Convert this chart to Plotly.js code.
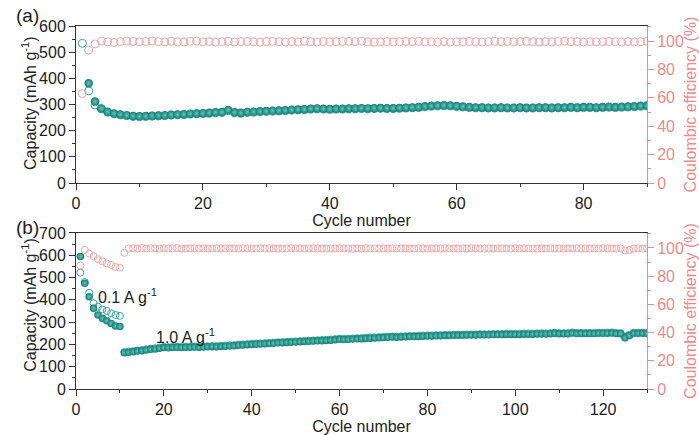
<!DOCTYPE html>
<html>
<head>
<meta charset="utf-8">
<script src="https://cdn.plot.ly/plotly-3.0.1.min.js"></script>
<style>html,body{margin:0;padding:0;background:#fff;}#chart{width:699px;height:435px;}</style>
</head>
<body>
<div id="chart"></div>
<script>
// ---------- Panel (a) ----------
const A_cycle = [1,2,3,4,5,6,7,8,9,10,11,12,13,14,15,16,17,18,19,20,21,22,23,24,25,26,27,28,29,30,
31,32,33,34,35,36,37,38,39,40,41,42,43,44,45,46,47,48,49,50,51,52,53,54,55,56,57,58,59,60,
61,62,63,64,65,66,67,68,69,70,71,72,73,74,75,76,77,78,79,80,81,82,83,84,85,86,87,88,89,90];
const A_discharge = [null,381,311,285,272,266,262,259,256,255,
256,257,258,259,261,262,263,265,266,267,
268,270,271,279,270,268,271,272,274,275,
276,277,278,280,281,282,284,285,284,283,
284,284,285,285,286,285,286,287,286,286,
287,288,289,290,293,295,296,297,296,294,
292,290,289,289,288,288,289,288,288,289,
288,288,289,289,288,289,289,290,289,290,
290,289,290,291,290,291,292,293,295,296];
const A_charge = [534,352,298,283,270,264,260,257,254,253,
254,255,256,257,259,260,261,263,264,265,
266,268,269,276,268,266,269,270,272,273,
274,275,276,278,279,280,282,283,282,281,
282,282,283,283,284,283,284,285,284,284,
285,286,287,288,291,293,294,295,294,292,
290,288,287,287,286,286,287,286,286,287,
286,286,287,287,286,287,287,288,287,288,
288,287,288,289,288,289,290,291,293,294];
const A_ce = [63,93.6,98,100,99.5,99,99.6,100,99.8,99.5,
99.7,100,99.6,99.4,99.8,99.5,99.3,99.9,100,99.4,
99.6,99.2,99.5,99.8,99.3,99.6,99.7,99.4,99.2,99.6,
99.8,99.5,99.3,99.6,99.4,99.9,99.5,99.3,99.6,99.4,
99.5,99.7,99.8,99.6,100,99.4,99.2,99.5,99.6,99.3,
99.5,99.7,99.6,99.8,99.4,99.5,99.3,99.6,99.2,99.5,
99.4,99.7,99.5,99.3,99.6,99.8,99.5,99.7,99.4,99.6,
99.8,99.5,99.3,99.6,99.4,99.7,99.9,99.5,99.6,99.3,
99.5,99.4,99.6,99.7,99.5,99.3,99.6,99.4,99.5,99.8];

// ---------- Panel (b) ----------
const B_cycle = [1,2,3,4,5,6,7,8,9,10,11,12,13,14,15,16,17,18,19,20,21,22,23,24,25,26,27,28,29,30,
31,32,33,34,35,36,37,38,39,40,41,42,43,44,45,46,47,48,49,50,51,52,53,54,55,56,57,58,59,60,
61,62,63,64,65,66,67,68,69,70,71,72,73,74,75,76,77,78,79,80,81,82,83,84,85,86,87,88,89,90,
91,92,93,94,95,96,97,98,99,100,101,102,103,104,105,106,107,108,109,110,111,112,113,114,115,116,117,118,119,120,
121,122,123,124,125,126,127,128,129,130];
const B_discharge = [594,474,414,362,332,317,306,294,283,280,
163,165,167,170,172,175,178,180,183,186,
185,186,187,186,187,187,188,187,188,189,
190,190,191,192,193,194,196,197,199,200,
201,202,203,204,205,207,208,209,210,211,
212,213,214,215,216,217,218,219,221,223,
222,223,224,225,226,227,228,229,230,231,
232,233,232,233,234,235,235,236,237,238,
238,239,239,240,240,241,241,241,242,242,
242,243,243,243,244,244,244,245,245,245,
245,246,246,246,247,247,247,248,250,248,
248,248,251,249,249,249,249,249,250,250,
250,251,249,248,230,240,250,250,250,249];
const B_charge = [522,480,432,385,369,357,350,340,332,328,
166,168,170,173,175,178,181,183,186,189,
188,189,190,189,190,190,191,190,191,192,
193,193,194,195,196,197,199,200,202,203,
204,205,206,207,208,210,211,212,213,214,
215,216,217,218,219,220,221,222,224,226,
225,226,227,228,229,230,231,232,233,234,
235,236,235,236,237,238,238,239,240,241,
241,242,242,243,243,244,244,244,245,245,
245,246,246,246,247,247,247,248,248,248,
248,249,249,249,250,250,250,251,253,251,
251,251,254,252,252,252,252,252,253,253,
253,254,252,251,234,243,253,253,253,252];
const B_ce = [87.5,98.6,96,94,92,90.5,89,88,86.5,86,
96.5,99.6,99.8,99.7,99.9,99.6,99.8,99.7,99.5,99.8,
99.6,99.7,99.9,99.6,99.5,99.7,99.8,99.6,99.7,99.5,
99.6,99.8,99.7,99.6,99.5,99.7,99.6,99.8,99.7,99.6,
99.5,99.7,99.6,99.8,99.7,99.5,99.6,99.7,99.8,99.6,
99.7,99.5,99.6,99.8,99.7,99.6,99.5,99.7,99.6,99.8,
99.7,99.6,99.5,99.7,99.6,99.8,99.7,99.6,99.5,99.7,
99.6,99.8,99.7,99.6,99.7,99.5,99.6,99.8,99.7,99.6,
99.5,99.7,99.6,99.8,99.7,99.6,99.5,99.7,99.6,99.8,
99.7,99.6,99.5,99.7,99.6,99.8,99.7,99.6,99.5,99.7,
99.6,99.8,99.7,99.6,99.5,99.7,99.6,99.8,99.7,99.6,
99.5,99.7,99.6,99.8,99.7,99.6,99.5,99.7,99.6,99.8,
99.7,99.6,99.5,99.7,98.2,98.6,99.6,99.7,99.5,99.6];

const labelA = '(a)', labelB = '(b)';
const rateLow = '0.1 A g<sup>-1</sup>', rateHigh = '1.0 A g<sup>-1</sup>';
const capTitle = 'Capacity (mAh g<sup>-1</sup>)';

// ---------- styles ----------
const TEAL = '#137f76', TEAL_HI = '#66c4bb', TEAL_OPEN = '#3aa89f';
const PINK = '#f2a6a6', PINK_AX = '#ee8a8a', DARK = '#333';

function filled(x, y, xa, ya, size) {
  return {x, y, xaxis: xa, yaxis: ya, type: 'scatter', mode: 'markers', hoverinfo: 'skip',
    marker: {symbol: 'circle', size, color: TEAL, gradient: {type: 'radial', color: TEAL_HI}, line: {width: 0}}};
}
function open(x, y, xa, ya, size, col) {
  return {x, y, xaxis: xa, yaxis: ya, type: 'scatter', mode: 'markers', hoverinfo: 'skip',
    marker: {symbol: 'circle-open', size, color: col, line: {width: 1, color: col}}};
}

const data = [
  open(A_cycle, A_ce, 'x', 'y2', 8, PINK),
  open(A_cycle, A_charge, 'x', 'y', 8, TEAL_OPEN),
  filled(A_cycle, A_discharge, 'x', 'y', 8.5),
  open(B_cycle, B_ce, 'x2', 'y4', 7, PINK),
  open(B_cycle, B_charge, 'x2', 'y3', 7, TEAL_OPEN),
  filled(B_cycle, B_discharge, 'x2', 'y3', 7.5)
];

const FONT = 'Liberation Sans, Arial, sans-serif';
function xAx(anchor, max) {
  return {anchor, domain: [0, 1], range: [0, max], tick0: 0, dtick: 20, ticks: 'outside', ticklen: 6, tickwidth: 1,
    tickcolor: DARK, showline: true, linecolor: DARK, linewidth: 1, mirror: true, showgrid: false, zeroline: false,
    minor: {dtick: 10, ticks: 'outside', ticklen: 3, tickcolor: DARK}, automargin: false,
    tickfont: {size: 16, color: '#222'}, title: {text: 'Cycle number', standoff: 0, font: {size: 16, color: '#222'}}};
}
function yLeft(anchor, dom, max) {
  return {anchor, domain: dom, range: [0, max], tick0: 0, dtick: 100, ticks: 'outside', ticklen: 6, tickwidth: 1,
    tickcolor: DARK, showline: true, linecolor: DARK, linewidth: 1, showgrid: false, zeroline: false,
    minor: {dtick: 50, ticks: 'outside', ticklen: 3, tickcolor: DARK}, automargin: false,
    tickfont: {size: 16, color: '#222'}};
}
function yRight(anchor, over) {
  return {anchor, overlaying: over, side: 'right', range: [0, 110.6], tick0: 0, dtick: 20, ticks: 'outside', ticklen: 6,
    tickwidth: 1, tickcolor: PINK_AX, showline: true, linecolor: PINK_AX, linewidth: 1, showgrid: false, zeroline: false,
    minor: {dtick: 10, ticks: 'outside', ticklen: 3, tickcolor: PINK_AX}, automargin: false,
    tickfont: {size: 16, color: PINK_AX}, title: {text: 'Coulombic efficiency (%)', standoff: 4, font: {size: 16, color: PINK_AX}}};
}

const layout = {
  width: 699, height: 435, margin: {l: 76, r: 52, t: 26, b: 46},
  paper_bgcolor: '#fff', plot_bgcolor: '#fff', showlegend: false,
  font: {family: FONT, size: 16, color: '#222'},
  xaxis: xAx('y', 90),
  yaxis: yLeft('x', [0.5675, 1], 600),
  yaxis2: yRight('x', 'y'),
  xaxis2: xAx('y3', 130),
  yaxis3: yLeft('x2', [0, 0.4298], 700),
  yaxis4: yRight('x2', 'y3'),
  annotations: [
    {text: capTitle, textangle: -90, xref: 'paper', yref: 'paper', x: -0.0823, y: 0.788, xanchor: 'center', yanchor: 'middle', showarrow: false, font: {size: 16, color: '#222'}},
    {text: capTitle, textangle: -90, xref: 'paper', yref: 'paper', x: -0.0823, y: 0.232, xanchor: 'center', yanchor: 'middle', showarrow: false, font: {size: 16, color: '#222'}},
    {text: labelA, xref: 'paper', yref: 'paper', x: -0.085, y: 1.03, xanchor: 'center', yanchor: 'middle', showarrow: false, font: {size: 19, color: '#222'}},
    {text: labelB, xref: 'paper', yref: 'paper', x: -0.085, y: 0.446, xanchor: 'center', yanchor: 'middle', showarrow: false, font: {size: 19, color: '#222'}},
    {text: rateLow, xref: 'x2', yref: 'y3', x: 4.5, y: 418, xanchor: 'left', yanchor: 'middle', showarrow: false, font: {size: 16, color: '#222'}},
    {text: rateHigh, xref: 'x2', yref: 'y3', x: 17.8, y: 236, xanchor: 'left', yanchor: 'middle', showarrow: false, font: {size: 16, color: '#222'}}
  ]
};

Plotly.newPlot('chart', data, layout, {staticPlot: true, displayModeBar: false});
</script>
</body>
</html>
